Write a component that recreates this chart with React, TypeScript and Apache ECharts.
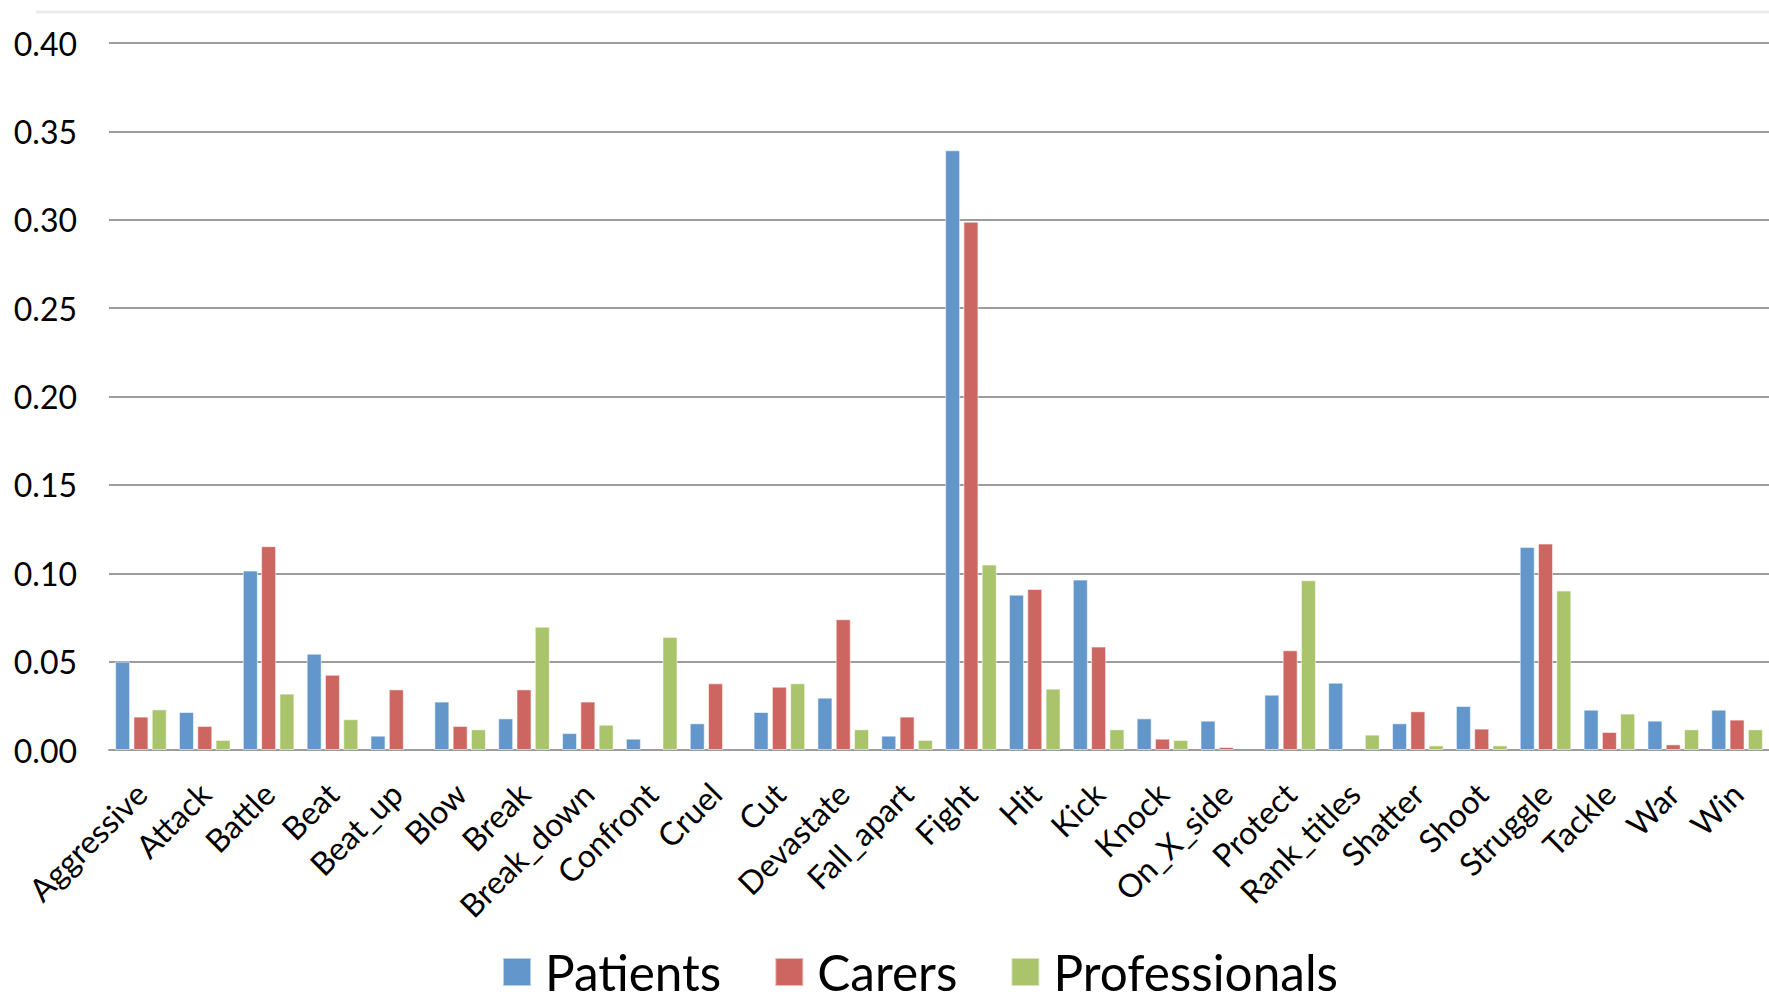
import React, { useEffect, useRef } from "react";
import * as echarts from "echarts";

const categories = [
  "Aggressive", "Attack", "Battle", "Beat", "Beat_up", "Blow", "Break", "Break_down",
  "Confront", "Cruel", "Cut", "Devastate", "Fall_apart", "Fight", "Hit", "Kick", "Knock",
  "On_X_side", "Protect", "Rank_titles", "Shatter", "Shoot", "Struggle", "Tackle", "War", "Win",
];

const patients = [
  0.05, 0.0215, 0.1015, 0.0545, 0.0081, 0.0274, 0.0179, 0.0096, 0.0064, 0.0151, 0.0215, 0.0296,
  0.0081, 0.3393, 0.0879, 0.0964, 0.0179, 0.0166, 0.0313, 0.0381, 0.0151, 0.0249, 0.1149,
  0.0228, 0.0166, 0.0228,
];
const carers = [
  0.0189, 0.0136, 0.1153, 0.0426, 0.0343, 0.0136, 0.0343, 0.0274, null, 0.0377, 0.0358, 0.074,
  0.0189, 0.2989, 0.0911, 0.0585, 0.0064, 0.0017, 0.0564, null, 0.0219, 0.0121, 0.1168, 0.0102,
  0.0032, 0.0172,
];
const professionals = [
  0.023, 0.0057, 0.0319, 0.0174, null, 0.0117, 0.0698, 0.0143, 0.064, null, 0.0377, 0.0117,
  0.0057, 0.1049, 0.0347, 0.0117, 0.0057, null, 0.096, 0.0087, 0.0026, 0.0026, 0.0902, 0.0206,
  0.0117, 0.0117,
];

const seriesNames = ["Patients", "Carers", "Professionals"];
const seriesColors = ["#6397CB", "#CD6661", "#A9C46B"];

export default function App() {
  const ref = useRef<HTMLDivElement>(null);
  useEffect(() => {
    if (!ref.current) return;
    const chart = echarts.init(ref.current, null, { renderer: "svg" });
    const data = [patients, carers, professionals];
    chart.setOption({
      animation: false,
      backgroundColor: "#ffffff",
      textStyle: { fontFamily: "Lato" },
      graphic: [
        {
          type: "line",
          shape: { x1: 36, y1: 12, x2: 1769, y2: 12 },
          style: { stroke: "#ececec", lineWidth: 3 },
        },
      ],
      legend: {
        left: 502,
        top: 947,
        padding: 0,
        itemWidth: 28,
        itemHeight: 28,
        itemGap: 53,
        icon: "rect",
        data: seriesNames,
        textStyle: {
          fontSize: 49.5,
          lineHeight: 50,
          color: "#000",
          fontFamily: "Lato",
          padding: [0, 0, 0, 9],
        },
      },
      grid: { left: 109, top: 43, width: 1666, height: 707, containLabel: false },
      xAxis: {
        type: "category",
        data: categories,
        axisTick: { show: false },
        axisLine: { lineStyle: { color: "#9c9c9c", width: 2 } },
        axisLabel: {
          interval: 0,
          rotate: 45,
          fontSize: 32,
          color: "#000",
          fontFamily: "Lato",
          margin: 38,
        },
      },
      yAxis: {
        type: "value",
        min: 0,
        max: 0.4,
        interval: 0.05,
        axisLine: { show: false },
        axisTick: { show: false },
        splitLine: { lineStyle: { color: "#9c9c9c", width: 2 } },
        axisLabel: {
          formatter: (v: number) => v.toFixed(2),
          fontSize: 32,
          color: "#000",
          fontFamily: "Lato",
          margin: 32,
        },
      },
      series: seriesNames.map((name, i) => ({
        name,
        type: "bar",
        data: data[i],
        barWidth: 15,
        barGap: "22%",
        itemStyle: {
          color: seriesColors[i],
          borderColor: "rgba(255,255,255,0.55)",
          borderWidth: 1,
        },
      })),
    });
    return () => chart.dispose();
  }, []);
  return (
    <div
      ref={ref}
      style={{ position: "fixed", left: 0, top: 0, width: 1769, height: 1002, background: "#fff" }}
    />
  );
}
